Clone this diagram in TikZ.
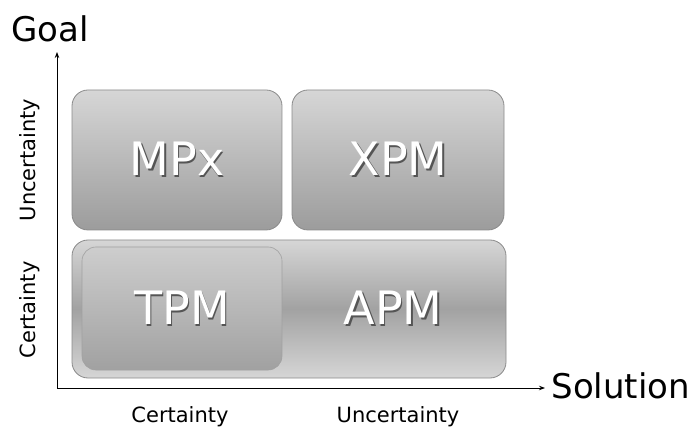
\documentclass[tikz,border=0pt]{standalone}
\usepackage{fontspec}
\setmainfont{DejaVu Sans}
\usepackage{xcolor}
\usetikzlibrary{arrows.meta}
\definecolor{boxtop}{HTML}{D6D6D6}
\definecolor{boxbot}{HTML}{9C9C9C}
\definecolor{boxedge}{HTML}{8A8A8A}
\definecolor{bandmid}{HTML}{A2A2A2}
\definecolor{shadowc}{HTML}{555555}
% white text with a dark drop shadow
\newcommand{\shtext}[1]{\rlap{\hspace{1.6pt}\raisebox{-1.8pt}{\color{shadowc}#1}}#1}
\tikzset{
  axis/.style={draw=black, line width=1pt, -{Stealth[length=6pt,width=4.5pt]}},
  axlab/.style={font=\fontsize{34}{36}\selectfont},
  sidelab/.style={font=\fontsize{21}{23}\selectfont},
  quad/.style={draw=boxedge, line width=0.8pt, rounded corners=16pt,
    top color=boxtop, bottom color=boxbot},
  band/.style={draw=boxedge, line width=0.8pt, rounded corners=16pt,
    top color=boxtop, bottom color=boxtop, middle color=bandmid},
  inner/.style={draw=boxedge!80, line width=0.6pt, rounded corners=14pt,
    top color=boxtop!90!gray, bottom color=boxbot!95!white},
  big/.style={text=white, font=\fontsize{46}{48}\selectfont},
}

\begin{document}
\begin{tikzpicture}[x=1pt,y=-1pt]
  \useasboundingbox (0,0) rectangle (693,435);
  \coordinate (O) at (57,388);
  \coordinate (ytop) at (57,52);
  \coordinate (xend) at (545,388);

  % quadrants
  \path[quad] (72,90) rectangle (282,230);
  \path[quad] (292,90) rectangle (504,230);
  \path[band] (72,240) rectangle (506,378);
  \path[inner] (82,247) rectangle (282,370);

  % box labels
  \foreach \nm/\x/\y in {MPx/177/160, XPM/398/160, TPM/182/309, APM/393/309}{
    \node[big] (\nm) at (\x,\y) {\shtext{\nm}};
  }

  % axes
  \draw[axis] (O) -- (ytop);
  \draw[axis] (O) -- (xend);
  \node[axlab,anchor=west] (goal) at (8,29) {Goal};
  \node[axlab,anchor=west] (sol) at (548,386) {Solution};

  \node[sidelab,rotate=90] (yunc) at (30,160) {Uncertainty};
  \node[sidelab,rotate=90] (ycer) at (30,310) {Certainty};
  \node[sidelab] (xcer) at (180,417) {Certainty};
  \node[sidelab] (xunc) at (398,417) {Uncertainty};
\end{tikzpicture}
\end{document}
